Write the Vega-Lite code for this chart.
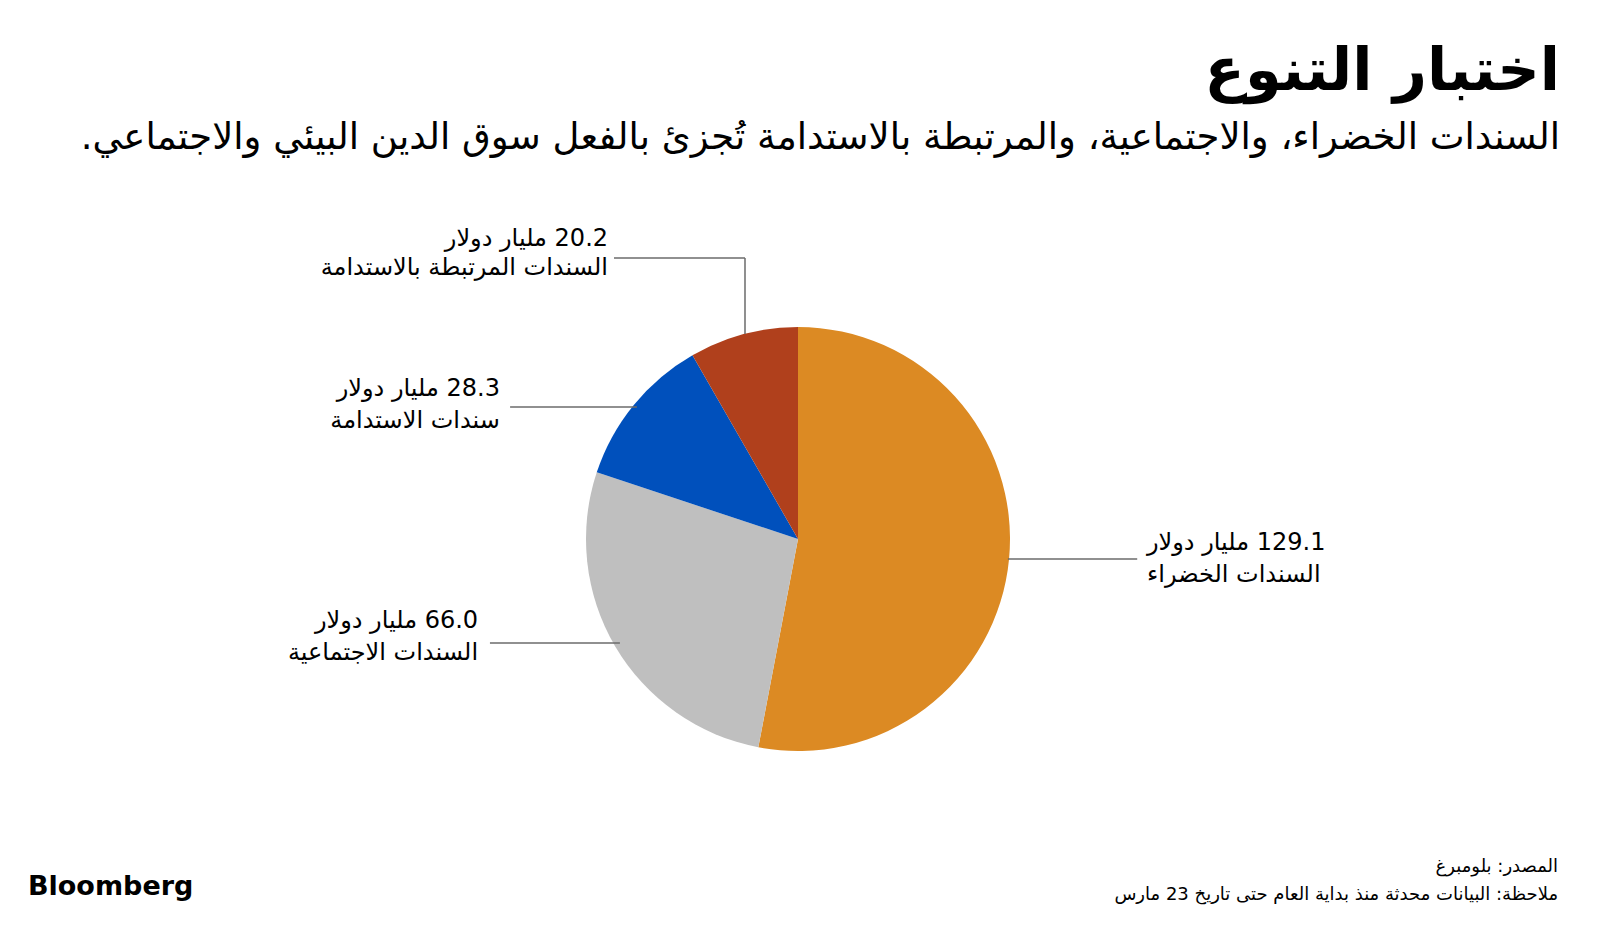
{
  "$schema": "https://vega.github.io/schema/vega-lite/v6.json",
  "autosize": {"type": "none"},
  "width": 1596,
  "height": 698,
  "padding": {"left": 0, "top": 190, "right": 4, "bottom": 38},
  "background": "white",
  "config": {"view": {"stroke": null}, "font": "DejaVu Sans"},
  "title": {
    "text": "اختبار التنوع",
    "subtitle": "\u200Fالسندات الخضراء، والاجتماعية، والمرتبطة بالاستدامة  تُجزئ بالفعل سوق الدين البيئي والاجتماعي.\u200F",
    "anchor": "end",
    "dx": -36,
    "offset": 34,
    "font": "DejaVu Sans",
    "fontSize": 59,
    "fontWeight": "bold",
    "color": "#000000",
    "subtitleFont": "DejaVu Sans",
    "subtitleFontSize": 37,
    "subtitleColor": "#000000",
    "subtitlePadding": 18
  },
  "datasets": {
    "slices": [
      {"category": "السندات الخضراء", "value": 129.1, "order": 1},
      {"category": "السندات الاجتماعية", "value": 66.0, "order": 2},
      {"category": "سندات الاستدامة", "value": 28.3, "order": 3},
      {"category": "السندات المرتبطة بالاستدامة", "value": 20.2, "order": 4}
    ],
    "leaders": [
      {"x": -0.868, "y": 1.325, "x2": -0.25, "y2": 1.325},
      {"x": -0.25, "y": 1.325, "x2": -0.25, "y2": 0.967},
      {"x": -1.358, "y": 0.623, "x2": -0.76, "y2": 0.623},
      {"x": -1.453, "y": -0.491, "x2": -0.84, "y2": -0.491},
      {"x": 0.99, "y": -0.094, "x2": 1.6, "y2": -0.094}
    ],
    "labelsRight": [
      {"x": -0.896, "y": 1.382, "text": "\u200F20.2 مليار دولار"},
      {"x": -0.896, "y": 1.245, "text": "السندات المرتبطة بالاستدامة"},
      {"x": -1.406, "y": 0.675, "text": "\u200F28.3 مليار دولار"},
      {"x": -1.406, "y": 0.524, "text": "سندات الاستدامة"},
      {"x": -1.509, "y": -0.42, "text": "\u200F66.0 مليار دولار"},
      {"x": -1.509, "y": -0.571, "text": "السندات الاجتماعية"}
    ],
    "labelsLeft": [
      {"x": 1.646, "y": -0.052, "text": "\u200F129.1 مليار دولار"},
      {"x": 1.646, "y": -0.203, "text": "السندات الخضراء"}
    ],
    "notes": [
      {"x": 3.585, "y": -1.571, "text": "المصدر: بلومبرغ"},
      {"x": 3.585, "y": -1.703, "text": "\u200Fملاحظة: البيانات محدثة منذ بداية العام حتى تاريخ 23 مارس"}
    ],
    "brand": [
      {"x": -3.632, "y": -1.679, "text": "Bloomberg"}
    ]
  },
  "layer": [
    {
      "data": {"name": "slices"},
      "mark": {"type": "arc", "radius": 212, "stroke": null},
      "encoding": {
        "theta": {"field": "value", "type": "quantitative", "stack": true},
        "order": {"field": "order", "type": "quantitative"},
        "color": {
          "field": "category",
          "type": "nominal",
          "legend": null,
          "scale": {
            "domain": ["السندات الخضراء", "السندات الاجتماعية", "سندات الاستدامة", "السندات المرتبطة بالاستدامة"],
            "range": ["#DC8A23", "#BFBFBF", "#0050BC", "#B0401C"]
          }
        }
      }
    },
    {
      "data": {"name": "leaders"},
      "mark": {"type": "rule", "color": "#6b6b6b", "strokeWidth": 1.5},
      "encoding": {
        "x": {"field": "x", "type": "quantitative", "scale": {"domain": [-3.764, 3.764], "nice": false, "zero": false}, "axis": null},
        "y": {"field": "y", "type": "quantitative", "scale": {"domain": [-1.646, 1.646], "nice": false, "zero": false}, "axis": null},
        "x2": {"field": "x2"},
        "y2": {"field": "y2"}
      }
    },
    {
      "data": {"name": "labelsRight"},
      "mark": {"type": "text", "align": "right", "baseline": "alphabetic", "fontSize": 24, "color": "#000000"},
      "encoding": {
        "x": {"field": "x", "type": "quantitative"},
        "y": {"field": "y", "type": "quantitative"},
        "text": {"field": "text"}
      }
    },
    {
      "data": {"name": "labelsLeft"},
      "mark": {"type": "text", "align": "left", "baseline": "alphabetic", "fontSize": 24, "color": "#000000"},
      "encoding": {
        "x": {"field": "x", "type": "quantitative"},
        "y": {"field": "y", "type": "quantitative"},
        "text": {"field": "text"}
      }
    },
    {
      "data": {"name": "notes"},
      "mark": {"type": "text", "align": "right", "baseline": "alphabetic", "fontSize": 18, "color": "#000000"},
      "encoding": {
        "x": {"field": "x", "type": "quantitative"},
        "y": {"field": "y", "type": "quantitative"},
        "text": {"field": "text"}
      }
    },
    {
      "data": {"name": "brand"},
      "mark": {"type": "text", "align": "left", "baseline": "alphabetic", "fontSize": 27, "fontWeight": "bold", "color": "#000000"},
      "encoding": {
        "x": {"field": "x", "type": "quantitative"},
        "y": {"field": "y", "type": "quantitative"},
        "text": {"field": "text"}
      }
    }
  ]
}
